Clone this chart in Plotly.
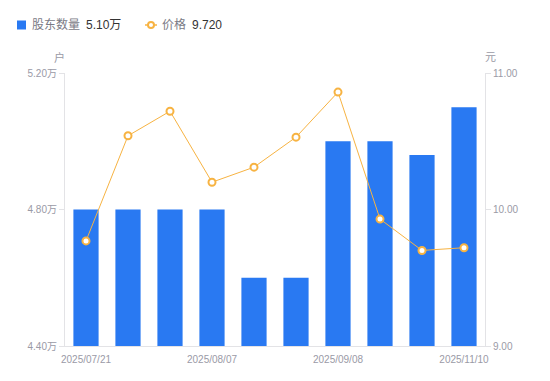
import plotly.graph_objects as go

# ---- data ----
dates = ["2025/07/21", "2025/07/25", "2025/07/31", "2025/08/07", "2025/08/15",
         "2025/08/29", "2025/09/08", "2025/09/30", "2025/10/20", "2025/11/10"]
shareholders = [48000, 48000, 48000, 48000, 46000, 46000, 50000, 50000, 49600, 51000]
prices = [9.77, 10.54, 10.72, 10.20, 10.31, 10.53, 10.86, 9.93, 9.70, 9.72]
x_tick_labels = ["2025/07/21", "2025/08/07", "2025/09/08", "2025/11/10"]
left_ticks = [44000, 48000, 52000]
right_ticks = [9.0, 10.0, 11.0]

BLUE = "#2979f2"
ORANGE = "#f7b342"
GRAY = "#9a9aa6"
AXIS = "#e3e3e6"
FONT = "Liberation Sans, Noto Sans CJK SC, sans-serif"

W, H = 550, 381
L, R, T, B = 65, 65, 73, 35
PW, PH = W - L - R, H - T - B


def px(x):
    return (x - L) / PW


def py(y):
    return (H - B - y) / PH


fig = go.Figure()
fig.add_trace(go.Bar(x=dates, y=shareholders, marker=dict(color=BLUE, line=dict(width=0)),
                     name="股东数量", yaxis="y"))
fig.add_trace(go.Scatter(x=dates, y=prices, mode="lines+markers", name="价格", yaxis="y2",
                         line=dict(color=ORANGE, width=1),
                         marker=dict(symbol="circle", size=7, color="white",
                                     line=dict(color=ORANGE, width=2))))

fig.update_layout(
    width=W, height=H,
    margin=dict(l=L, r=R, t=T, b=B, pad=0, autoexpand=False),
    paper_bgcolor="white", plot_bgcolor="white",
    showlegend=False,
    bargap=0.4,
    font=dict(family=FONT, size=10, color=GRAY),
    xaxis=dict(type="category", range=[-0.5, len(dates) - 0.5],
               tickmode="array", tickvals=x_tick_labels, ticktext=x_tick_labels,
               showgrid=False, showline=True, linecolor=AXIS, linewidth=1,
               ticks="outside", ticklen=4, tickcolor="rgba(0,0,0,0)",
               tickfont=dict(size=10, color=GRAY), zeroline=False, automargin=False),
    yaxis=dict(range=[left_ticks[0], left_ticks[-1]], tickmode="array", tickvals=left_ticks,
               ticktext=[f"{v/1e4:.2f}万" for v in left_ticks],
               showgrid=False, showline=True, linecolor=AXIS, linewidth=1,
               ticks="outside", ticklen=5, tickcolor=AXIS, zeroline=False,
               tickfont=dict(size=10, color=GRAY), automargin=False),
    yaxis2=dict(range=[right_ticks[0], right_ticks[-1]], tickmode="array", tickvals=right_ticks,
                ticktext=[f"{v:.2f}" for v in right_ticks], overlaying="y", side="right",
                showgrid=False, showline=True, linecolor=AXIS, linewidth=1,
                ticks="outside", ticklen=5, tickcolor=AXIS, zeroline=False,
                tickfont=dict(size=10, color=GRAY), automargin=False),
)

# axis unit titles
fig.add_annotation(x=px(59), y=py(57), xref="paper", yref="paper", text="户", showarrow=False,
                   font=dict(size=11, color=GRAY, family=FONT), xanchor="center", yanchor="middle")
fig.add_annotation(x=px(490), y=py(57), xref="paper", yref="paper", text="元", showarrow=False,
                   font=dict(size=11, color=GRAY, family=FONT), xanchor="center", yanchor="middle")

# custom legend
ly = 25
fig.add_shape(type="rect", xref="paper", yref="paper", x0=px(17), x1=px(26), y0=py(29.5), y1=py(20.5),
              fillcolor=BLUE, line=dict(width=0))
fig.add_annotation(x=px(30), y=py(ly), xref="paper", yref="paper", text="股东数量", showarrow=False,
                   xanchor="left", yanchor="middle", font=dict(size=12, color="#7a7a85", family=FONT))
fig.add_annotation(x=px(84), y=py(ly), xref="paper", yref="paper",
                   text=f"{shareholders[-1]/1e4:.2f}万", showarrow=False,
                   xanchor="left", yanchor="middle", font=dict(size=12, color="#333", family=FONT))
fig.add_shape(type="line", xref="paper", yref="paper", x0=px(145), x1=px(157), y0=py(ly), y1=py(ly),
              line=dict(color=ORANGE, width=1.5))
fig.add_shape(type="circle", xref="paper", yref="paper", x0=px(148), x1=px(154), y0=py(28), y1=py(22),
              fillcolor="white", line=dict(color=ORANGE, width=2))
fig.add_annotation(x=px(160), y=py(ly), xref="paper", yref="paper", text="价格", showarrow=False,
                   xanchor="left", yanchor="middle", font=dict(size=12, color="#7a7a85", family=FONT))
fig.add_annotation(x=px(190), y=py(ly), xref="paper", yref="paper",
                   text=f"{prices[-1]:.3f}", showarrow=False,
                   xanchor="left", yanchor="middle", font=dict(size=12, color="#333", family=FONT))

fig.write_html("out.html", config={"displayModeBar": False})
with open("out.html", encoding="utf-8") as f:
    html = f.read()
html = html.replace("<head>", "<head><style>html,body{margin:0;padding:0;overflow:hidden;}</style>", 1)
with open("out.html", "w", encoding="utf-8") as f:
    f.write(html)
